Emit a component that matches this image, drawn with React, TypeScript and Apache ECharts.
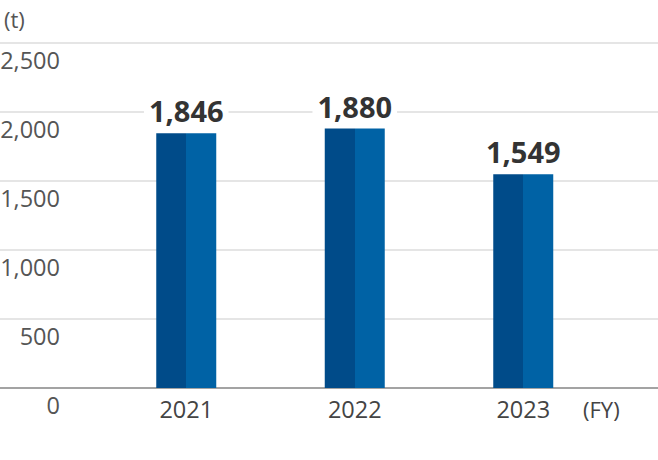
import React, { useEffect, useRef } from "react";
import * as echarts from "echarts";

const categories = ["2021", "2022", "2023"];
const values = [1846, 1880, 1549];
const yMin = 0;
const yMax = 2500;
const yInterval = 500;

const FONT = "'Open Sans', 'Noto Sans', sans-serif";

export default function App() {
  const ref = useRef<HTMLDivElement>(null);
  useEffect(() => {
    if (!ref.current) return;
    const chart = echarts.init(ref.current, undefined, { renderer: "svg" });
    const barColor = new echarts.graphic.LinearGradient(0, 0, 1, 0, [
      { offset: 0, color: "#004b89" },
      { offset: 0.5, color: "#004b89" },
      { offset: 0.5, color: "#0062a5" },
      { offset: 1, color: "#0062a5" },
    ]);
    chart.setOption({
      animation: false,
      backgroundColor: "#ffffff",
      grid: [
        { left: 0, right: 0, top: 43, bottom: 72, outerBoundsMode: "none" },
        { left: 102, right: 50.5, top: 43, bottom: 72, outerBoundsMode: "none" },
      ],
      xAxis: [
        {
          gridIndex: 0,
          type: "value",
          min: 0,
          max: 1,
          axisLine: { show: true, lineStyle: { color: "#8c8c8c", width: 1.5 } },
          axisTick: { show: false },
          axisLabel: { show: false },
          splitLine: { show: false },
        },
        {
          gridIndex: 1,
          type: "category",
          data: categories,
          axisLine: { show: false },
          axisTick: { show: false },
          axisLabel: {
            color: "#444",
            fontFamily: FONT,
            fontSize: 23.5,
            margin: 9,
          },
        },
      ],
      yAxis: [
        {
          gridIndex: 0,
          type: "value",
          min: yMin,
          max: yMax,
          interval: yInterval,
          axisLine: { show: false },
          axisTick: { show: false },
          axisLabel: { show: false },
          splitLine: { show: true, lineStyle: { color: "#dcdcdc", width: 1.5 } },
        },
        {
          gridIndex: 1,
          type: "value",
          min: yMin,
          max: yMax,
          interval: yInterval,
          axisLine: { show: false },
          axisTick: { show: false },
          splitLine: { show: false },
          axisLabel: {
            color: "#555",
            fontFamily: FONT,
            fontSize: 23.5,
            margin: 42,
            align: "right",
            verticalAlign: "top",
            padding: [5, 0, 0, 0],
            formatter: (v: number) => v.toLocaleString("en-US"),
          },
        },
      ],
      series: [
        {
          type: "bar",
          xAxisIndex: 1,
          yAxisIndex: 1,
          data: values,
          barWidth: 60,
          itemStyle: { color: barColor },
          label: {
            show: true,
            position: "top",
            distance: 8,
            color: "#333",
            fontFamily: FONT,
            fontWeight: "bold",
            fontSize: 29,
            backgroundColor: "#ffffff",
            padding: [0, 5, 0, 5],
            formatter: (p: any) => Number(p.value).toLocaleString("en-US"),
          },
        },
      ],
      graphic: [
        {
          type: "text",
          left: 4,
          top: 8,
          style: { text: "(t)", fill: "#555", font: `22px ${FONT}` },
        },
        {
          type: "text",
          left: 583,
          top: 398,
          style: { text: "(FY)", fill: "#444", font: `22px ${FONT}` },
        },
      ],
    });
    return () => chart.dispose();
  }, []);
  return <div ref={ref} style={{ width: 658, height: 460, position: "absolute", left: 0, top: 0 }} />;
}
